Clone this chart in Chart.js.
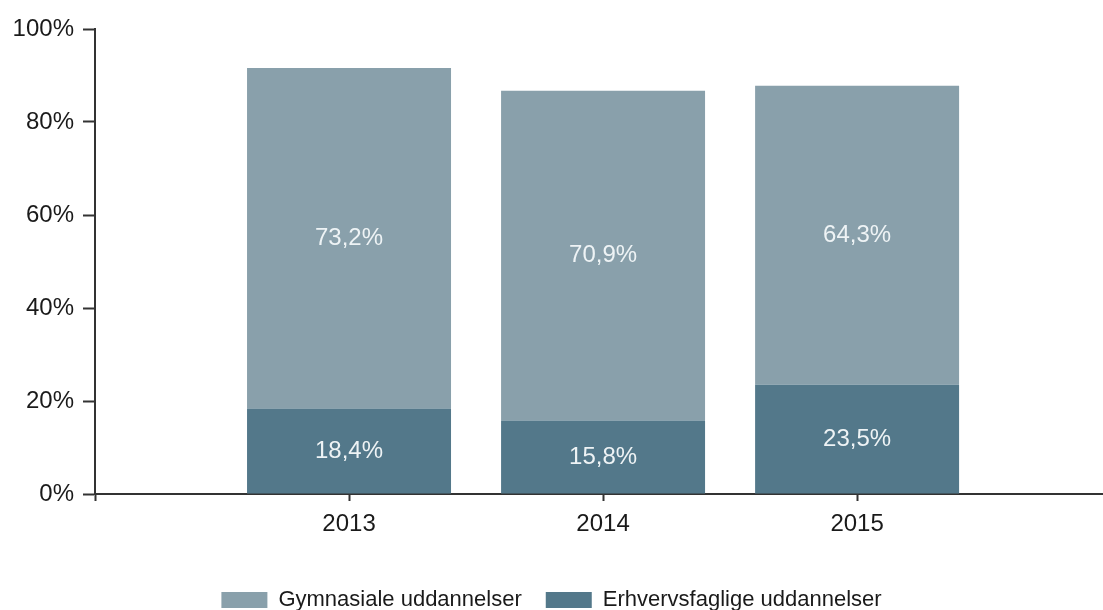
<!DOCTYPE html>
<html>
<head>
<meta charset="utf-8">
<script src="https://cdn.jsdelivr.net/npm/chart.js@4/dist/chart.umd.min.js"></script>
<style>
  html, body { margin: 0; padding: 0; background: #fff; }
  #wrap { width: 1103px; height: 610px; }
</style>
</head>
<body>
<div id="wrap"><canvas id="eduChart" width="1103" height="610"></canvas></div>
<script>
var years = ["2013", "2014", "2015"];
var gymnasiale = [73.2, 70.9, 64.3];
var erhvervsfaglige = [18.4, 15.8, 23.5];
var yTicks = [0, 20, 40, 60, 80, 100];

var lightColor = "#89a0ab";
var darkColor = "#53788a";
var font = "'Liberation Sans', Arial, sans-serif";

function toPoints(values) {
    return values.map(function (v, i) { return { x: i + 1, y: v }; });
}

// draws the value text in the middle of each segment
var segmentLabels = {
    id: "segmentLabels",
    afterDatasetsDraw: function (chart) {
        var ctx = chart.ctx;
        ctx.save();
        ctx.font = "24px " + font;
        ctx.fillStyle = "#eef3f5";
        ctx.textAlign = "center";
        ctx.textBaseline = "middle";
        chart.data.datasets.forEach(function (ds, di) {
            chart.getDatasetMeta(di).data.forEach(function (bar, i) {
                var c = bar.getCenterPoint();
                ctx.fillText(ds.data[i].y.toFixed(1).replace(".", ",") + "%", c.x, c.y);
            });
        });
        ctx.restore();
    }
};

new Chart(document.getElementById("eduChart"), {
    type: "bar",
    data: {
        datasets: [{
            label: "Gymnasiale uddannelser",
            data: toPoints(gymnasiale),
            backgroundColor: lightColor,
            order: 2
        }, {
            label: "Erhvervsfaglige uddannelser",
            data: toPoints(erhvervsfaglige),
            backgroundColor: darkColor,
            order: 1
        }]
    },
    plugins: [segmentLabels],
    options: {
        responsive: false,
        animation: false,
        layout: { padding: { top: 29, right: 0, bottom: -11, left: 0 } },
        datasets: { bar: { barPercentage: 1, categoryPercentage: 0.803 } },
        scales: {
            x: {
                type: "linear",
                stacked: true,
                offset: false,
                min: 0,
                max: 3.968,
                afterFit: function (axis) { axis.height = 71; },
                border: { color: "#333", width: 2 },
                grid: { drawOnChartArea: false, offset: false, tickLength: 7, tickColor: "#333", tickWidth: 2 },
                ticks: {
                    stepSize: 1,
                    includeBounds: false,
                    padding: 9,
                    color: "#1a1a1a",
                    font: { family: font, size: 24 },
                    callback: function (v) { return years[v - 1] || ""; }
                }
            },
            y: {
                stacked: true,
                min: 0,
                max: 100,
                afterFit: function (axis) { axis.width = 95; },
                afterBuildTicks: function (axis) {
                    axis.ticks = yTicks.map(function (v) { return { value: v }; });
                },
                border: { color: "#333", width: 2 },
                grid: { drawOnChartArea: false, tickLength: 12, tickColor: "#333", tickWidth: 2 },
                ticks: {
                    padding: 9,
                    color: "#1a1a1a",
                    font: { family: font, size: 24 },
                    callback: function (v) { return v + "%"; }
                }
            }
        },
        plugins: {
            legend: {
                position: "bottom",
                labels: {
                    boxWidth: 46,
                    boxHeight: 16,
                    padding: 24,
                    color: "#1a1a1a",
                    font: { family: font, size: 22 },
                    sort: function (a, b) { return a.datasetIndex - b.datasetIndex; }
                }
            },
            tooltip: { enabled: false }
        }
    }
});
</script>
</body>
</html>
